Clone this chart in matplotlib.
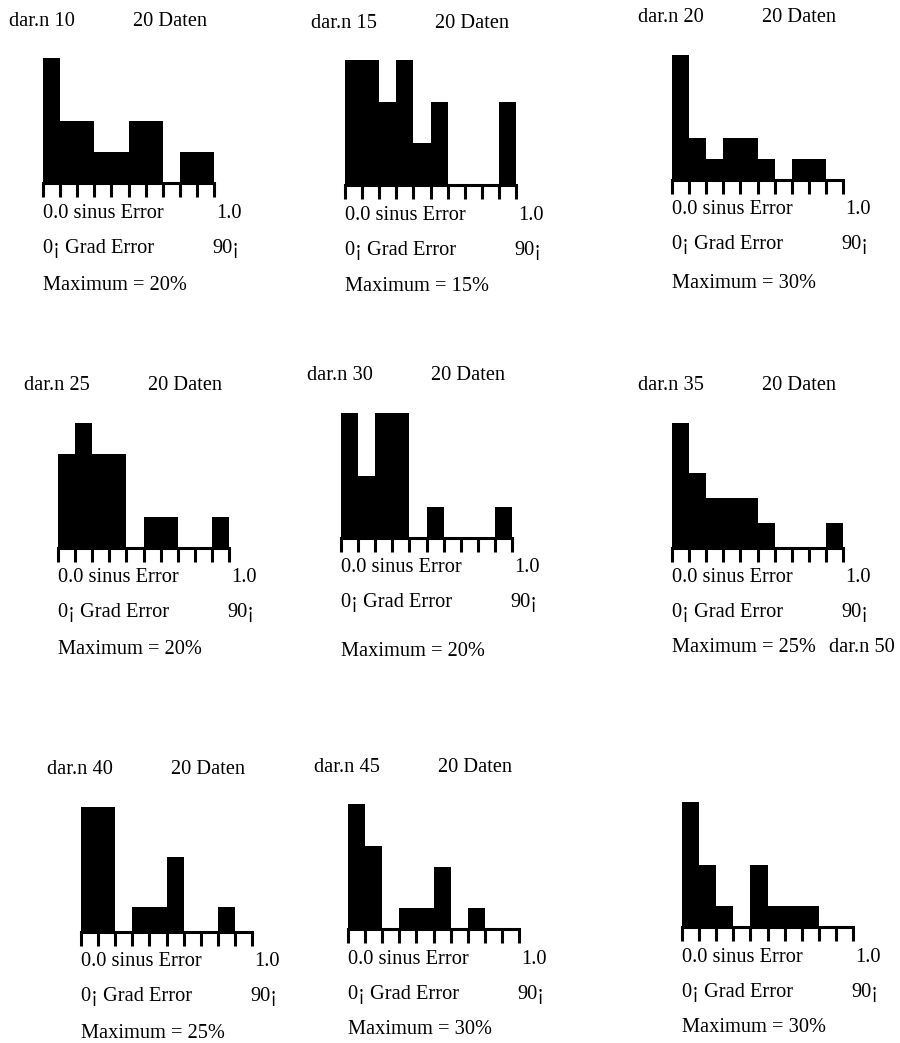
import numpy as np
import matplotlib.pyplot as plt

# percentage per bin (10 bins over 0.0 .. 1.0 sinus error)
names = ['dar.n 10', 'dar.n 15', 'dar.n 20', 'dar.n 25', 'dar.n 30',
         'dar.n 35', 'dar.n 40', 'dar.n 45', 'dar.n 50']
maxima = [20, 15, 30, 20, 20, 25, 25, 30, 30]
h10 = [20, 10, 10, 5, 5, 10, 10, 0, 5, 5]
h15 = [15, 15, 10, 15, 5, 10, 0, 0, 0, 10]
h20 = [30, 10, 5, 10, 10, 5, 0, 5, 5, 0]
h25 = [15, 20, 15, 15, 0, 5, 5, 0, 0, 5]
h30 = [20, 10, 20, 20, 0, 5, 0, 0, 0, 5]
h35 = [25, 15, 10, 10, 10, 5, 0, 0, 0, 5]
h40 = [25, 25, 0, 5, 5, 15, 0, 0, 5, 0]
h45 = [30, 20, 0, 5, 5, 15, 0, 5, 0, 0]
h50 = [30, 15, 5, 0, 15, 5, 5, 5, 0, 0]
heights = [h10, h15, h20, h25, h30, h35, h40, h45, h50]
n_daten = 20
bin_edges = np.arange(10) / 10

# layout in pixels (left edge, baseline y from top)
W, H = 900, 1043
lefts = [43, 345, 672, 58, 341, 672, 81, 348, 682]
bases = [183, 185, 180, 548, 538, 548, 932, 929, 927]
max_off = [102, 102, 103, 102, 114, 100, 101, 101, 101]
pw, ph = 171, 125

fig = plt.figure(figsize=(9, 10.43), dpi=100)
font = dict(family='Liberation Serif', size=14.7, color='black', va='center')


def ftext(x, y, s):
    fig.text(x / W, 1 - y / H, s, **font)


for i in range(9):
    l, b = lefts[i], bases[i]
    ax = fig.add_axes([l / W, 1 - b / H, pw / W, ph / H])
    ax.bar(bin_edges, heights[i], width=0.1, align='edge',
           color='black', linewidth=0)
    ax.set_xlim(0, 1)
    ax.set_ylim(0, maxima[i])
    for s in ['top', 'left', 'right']:
        ax.spines[s].set_visible(False)
    ax.spines['bottom'].set_linewidth(2.2)
    ax.set_xticks(np.linspace(0, 1, 11))
    ax.set_xticklabels([])
    ax.set_yticks([])
    ax.tick_params(axis='x', direction='out', length=10, width=2.2)
    ax.patch.set_alpha(0)

    if i < 8:
        ftext(l - 34, b - 162, names[i])
        ftext(l + 90, b - 162, f'{n_daten} Daten')
    ftext(l, b + 30, '0.0 sinus Error')
    ftext(l + 173, b + 30, '1.0')
    ftext(l, b + 65, '0¡ Grad Error')
    ftext(l + 169, b + 65, '90¡')
    ftext(l, b + max_off[i], f'Maximum = {maxima[i]}%')

# label for the last panel sits beside the "Maximum" of panel 6
ftext(829, 648, names[8])

fig.savefig('out.png', dpi=100)
print('Done: out.png')
